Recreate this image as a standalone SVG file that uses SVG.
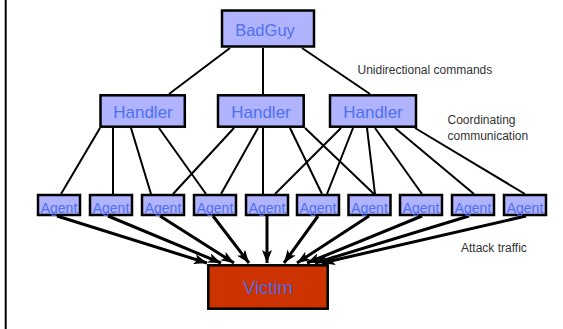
<svg xmlns="http://www.w3.org/2000/svg" width="563" height="329" viewBox="0 0 563 329">
<style>
.box{fill:#b0b4ff;stroke:#000;stroke-width:2.5}
.victim{fill:#cc3300;stroke:#000;stroke-width:2.5}
.t{font-family:"Liberation Sans",Arial,sans-serif;fill:#4f6ff0;text-anchor:middle}
.lbl{font-family:"Liberation Sans",Arial,sans-serif;fill:#333;font-size:12px}
.ln{stroke:#000;stroke-width:2;fill:none}
.ar{stroke:#000;stroke-width:3;fill:none;marker-end:url(#ah)}
</style>
<defs>
<marker id="ah" markerUnits="userSpaceOnUse" markerWidth="14" markerHeight="11" refX="13" refY="5" orient="auto">
<path d="M0,0 L13,5 L0,10 L3,5 z" fill="#000"/>
</marker>
</defs>
<rect x="0" y="0" width="563" height="329" fill="#fff"/>
<line x1="5.7" y1="0" x2="5.7" y2="329" stroke="#000" stroke-width="2"/>
<g id="connectors">
<line class="ln" x1="230" y1="48" x2="169" y2="94"/>
<line class="ln" x1="263" y1="48" x2="263" y2="94"/>
<line class="ln" x1="302" y1="48" x2="370" y2="94"/>
<line class="ln" x1="100" y1="128" x2="61" y2="194"/>
<line class="ln" x1="113" y1="128" x2="113" y2="194"/>
<line class="ln" x1="131" y1="128" x2="151" y2="194"/>
<line class="ln" x1="159" y1="128" x2="206" y2="194"/>
<line class="ln" x1="234" y1="128" x2="173" y2="194"/>
<line class="ln" x1="258" y1="128" x2="221" y2="194"/>
<line class="ln" x1="263" y1="128" x2="263" y2="194"/>
<line class="ln" x1="290" y1="128" x2="322" y2="194"/>
<line class="ln" x1="305" y1="128" x2="374" y2="194"/>
<line class="ln" x1="341" y1="128" x2="275" y2="194"/>
<line class="ln" x1="353" y1="128" x2="327" y2="194"/>
<line class="ln" x1="367" y1="128" x2="375" y2="194"/>
<line class="ln" x1="375" y1="128" x2="422" y2="194"/>
<line class="ln" x1="395" y1="128" x2="474" y2="194"/>
<line class="ln" x1="415" y1="128" x2="525" y2="194"/>
<line class="ar" x1="57" y1="216" x2="207" y2="263"/>
<line class="ar" x1="108" y1="216" x2="221" y2="263"/>
<line class="ar" x1="160" y1="216" x2="234" y2="263"/>
<line class="ar" x1="213" y1="216" x2="249" y2="263"/>
<line class="ar" x1="267" y1="216" x2="267" y2="263"/>
<line class="ar" x1="318" y1="216" x2="284" y2="263"/>
<line class="ar" x1="369" y1="216" x2="297" y2="263"/>
<line class="ar" x1="422" y1="216" x2="307" y2="263"/>
<line class="ar" x1="469" y1="216" x2="315" y2="263"/>
<line class="ar" x1="526" y1="216" x2="322" y2="263"/>
</g>
<g id="badguy"><rect class="box" x="222" y="10.5" width="92" height="36"/><text class="t" x="265" y="35.5" font-size="16.5">BadGuy</text></g>
<g id="handler1"><rect class="box" x="100.5" y="95.3" width="84.3" height="31.4"/><text class="t" x="143" y="117.5" font-size="17">Handler</text></g>
<g id="handler2"><rect class="box" x="218" y="95.3" width="85.7" height="31.4"/><text class="t" x="261" y="117.5" font-size="17">Handler</text></g>
<g id="handler3"><rect class="box" x="330" y="95.3" width="86" height="31.4"/><text class="t" x="373" y="117.5" font-size="17">Handler</text></g>
<g id="agent1"><rect class="box" x="38" y="195" width="42" height="20"/><text class="t" x="59" y="212.7" font-size="14">Agent</text></g>
<g id="agent2"><rect class="box" x="90" y="195" width="42" height="20"/><text class="t" x="111" y="212.7" font-size="14">Agent</text></g>
<g id="agent3"><rect class="box" x="142" y="195" width="42" height="20"/><text class="t" x="163" y="212.7" font-size="14">Agent</text></g>
<g id="agent4"><rect class="box" x="194" y="195" width="42" height="20"/><text class="t" x="215" y="212.7" font-size="14">Agent</text></g>
<g id="agent5"><rect class="box" x="246" y="195" width="42" height="20"/><text class="t" x="267" y="212.7" font-size="14">Agent</text></g>
<g id="agent6"><rect class="box" x="297" y="195" width="42" height="20"/><text class="t" x="318" y="212.7" font-size="14">Agent</text></g>
<g id="agent7"><rect class="box" x="348.5" y="195" width="42" height="20"/><text class="t" x="369.5" y="212.7" font-size="14">Agent</text></g>
<g id="agent8"><rect class="box" x="400" y="195" width="42" height="20"/><text class="t" x="421" y="212.7" font-size="14">Agent</text></g>
<g id="agent9"><rect class="box" x="452" y="195" width="42" height="20"/><text class="t" x="473" y="212.7" font-size="14">Agent</text></g>
<g id="agent10"><rect class="box" x="504" y="195" width="42" height="20"/><text class="t" x="525" y="212.7" font-size="14">Agent</text></g>
<g id="victim"><rect class="victim" x="208.3" y="265.3" width="119.4" height="43.4"/><text class="t" x="268" y="294.3" font-size="18.5" style="fill:#5566dd">Victim</text></g>
<g id="labels">
<text class="lbl" x="357.5" y="74">Unidirectional commands</text>
<text class="lbl" x="447.5" y="124">Coordinating</text>
<text class="lbl" x="447.5" y="140">communication</text>
<text class="lbl" x="461" y="251.7">Attack traffic</text>
</g>
</svg>
